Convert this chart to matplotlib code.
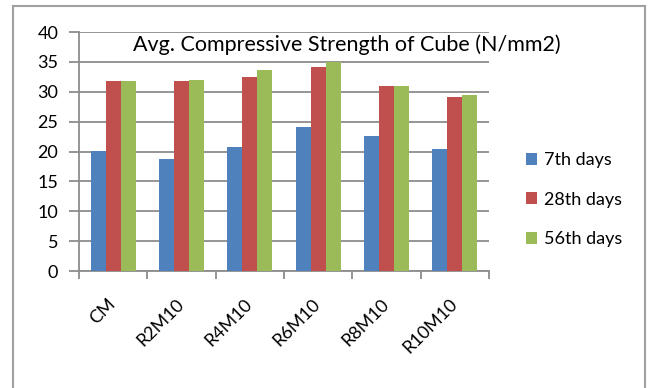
import matplotlib
matplotlib.use("Agg")
import matplotlib.pyplot as plt
from matplotlib.patches import Rectangle, Patch
import numpy as np

# compressive strength of cube specimens, N/mm2
mixes = ["CM", "R2M10", "R4M10", "R6M10", "R8M10", "R10M10"]
day7 = [20.1, 18.7, 20.8, 24.1, 22.6, 20.5]
day28 = [31.8, 31.8, 32.5, 34.1, 31.0, 29.2]
day56 = [31.8, 32.0, 33.6, 35.0, 31.0, 29.5]
series_names = ["7th days", "28th days", "56th days"]
colors = ["#4F81BD", "#C0504D", "#9BBB59"]

plt.rcParams['font.family'] = ['Lato', 'DejaVu Sans']

fig = plt.figure(figsize=(6.49, 3.88), dpi=100)
ax = fig.add_axes([0.1217, 0.3015, 0.6317, 0.616])

x = np.arange(len(mixes))
w = 0.22
for i, (vals, c) in enumerate(zip([day7, day28, day56], colors)):
    ax.bar(x + (i - 1) * w, vals, width=w, color=c, zorder=3)

ax.set_xlim(-0.5, len(mixes) - 0.5)
ax.set_ylim(0, 40)
ax.set_yticks(range(0, 41, 5))
ax.yaxis.grid(True, color="#8c8c8c", linewidth=1.3, zorder=0)
ax.set_axisbelow(True)

for s in ["top", "right"]:
    ax.spines[s].set_visible(False)
for s in ["left", "bottom"]:
    ax.spines[s].set_color("#8c8c8c")
    ax.spines[s].set_linewidth(1.3)

# category boundaries as ticks, names between them
ax.set_xticks(np.arange(-0.5, len(mixes), 1.0))
ax.set_xticklabels([])
ax.set_xticks(x, minor=True)
ax.set_xticklabels(mixes, minor=True, rotation=45, ha="right", va="center",
                   rotation_mode="anchor", fontsize=13)
ax.tick_params(axis="x", which="minor", length=0, pad=22)
ax.tick_params(axis="x", which="major", length=6, color="#8c8c8c", width=1.3)
ax.tick_params(axis="y", length=7, color="#8c8c8c", width=1.3, labelsize=13, pad=8)

fig.text(0.535, 0.884, "Avg. Compressive Strength of Cube (N/mm2)",
         ha="center", va="center", fontsize=15.5)

handles = [Patch(facecolor=c, edgecolor="none") for c in colors]
fig.legend(handles, series_names, loc="upper left", bbox_to_anchor=(0.785, 0.65),
           frameon=False, fontsize=13, handlelength=0.65, handleheight=0.65,
           handletextpad=0.35, labelspacing=1.3)

# outer chart frame
fig.patches.append(Rectangle((0.02, -0.05), 0.974, 1.0345, transform=fig.transFigure,
                             fill=False, edgecolor="#a0a0a0", linewidth=1.5))

fig.savefig("out.png", dpi=100)
